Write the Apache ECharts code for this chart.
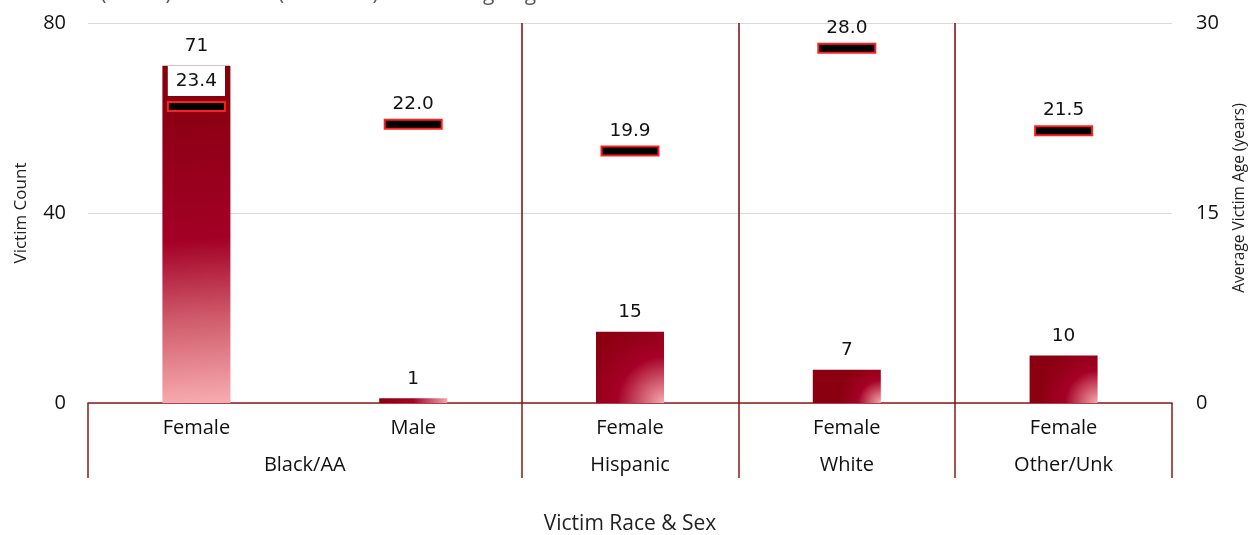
<!DOCTYPE html>
<html>
<head>
<meta charset="utf-8">
<script src="https://cdn.jsdelivr.net/npm/echarts@6/dist/echarts.min.js"></script>
<style>html,body{margin:0;padding:0;background:#fff;}#chart{width:1257px;height:535px;}</style>
</head>
<body>
<div id="chart"></div>
<script>
// ---- data ----
var sexCategories = ['Female', 'Male', 'Female', 'Female', 'Female'];
var raceGroups = ['Black/AA', 'Hispanic', 'White', 'Other/Unk'];
var raceGroupSpans = [2, 1, 1, 1];
var victimCounts = [71, 1, 15, 7, 10];
var averageAges = [23.4, 22.0, 19.9, 28.0, 21.5];
var countTicks = [0, 40, 80];
var ageTicks = [0, 15, 30];
var titleText = 'Number (Count) of Victims (Race/Sex) and Average Age';

// ---- derived positions in category units ----
var boundaries = [0];
var centers = [];
raceGroupSpans.forEach(function (s) {
  var start = boundaries[boundaries.length - 1];
  centers.push(start + s / 2);
  boundaries.push(start + s);
});
var innerBoundaries = boundaries.slice(1, boundaries.length - 1);

var FONT = 'Open Sans';
var NUMFONT = 'DejaVu Sans';
var AXIS_RED = '#8c1a1a';

var tallGrad = { type: 'linear', x: 0, y: 0, x2: 0.35, y2: 1, colorStops: [
  { offset: 0, color: '#82000a' }, { offset: 0.52, color: '#a30026' },
  { offset: 0.75, color: '#cf5a6a' }, { offset: 1, color: '#f7aaae' }] };
var flatGrad = { type: 'linear', x: 0, y: 0, x2: 1, y2: 0, colorStops: [
  { offset: 0, color: '#8b0010' }, { offset: 0.5, color: '#a50026' }, { offset: 1, color: '#f5a6ab' }] };
var radGrad = { type: 'radial', x: 1, y: 1, r: 1.25, colorStops: [
  { offset: 0, color: '#f7aaae' }, { offset: 0.55, color: '#a50026' }, { offset: 1, color: '#8b0010' }] };
var barStyles = [tallGrad, flatGrad, radGrad, radGrad, radGrad];

var chart = echarts.init(document.getElementById('chart'));
chart.setOption({
  animation: false,
  textStyle: { fontFamily: FONT },
  grid: { left: 88, right: 85, top: 23, bottom: 132, outerBoundsMode: 'none', containLabel: false },
  graphic: [{
    type: 'text', right: 1257 - 548, top: -16,
    style: { text: titleText, fontSize: 21, fontFamily: FONT, fill: '#595959', align: 'right' }
  }],
  xAxis: [{
    type: 'category', data: sexCategories,
    axisLine: { lineStyle: { color: AXIS_RED, width: 1.5 } },
    axisTick: { show: false },
    axisLabel: { color: '#111', fontSize: 20, margin: 15, fontFamily: FONT },
    name: 'Victim Race & Sex', nameLocation: 'middle', nameGap: 111,
    nameTextStyle: { color: '#222', fontSize: 21, fontFamily: FONT }
  }, {
    type: 'value', min: 0, max: sexCategories.length, position: 'bottom',
    axisLine: { show: false },
    splitLine: { show: false },
    axisTick: { show: true, length: 75, customValues: boundaries, lineStyle: { color: AXIS_RED, width: 1.5 } },
    axisLabel: { show: true, customValues: centers, margin: 52, color: '#111', fontSize: 20, fontFamily: FONT,
      formatter: function (v) { var i = centers.indexOf(v); return i >= 0 ? raceGroups[i] : ''; } }
  }],
  yAxis: [{
    type: 'value', min: countTicks[0], max: countTicks[countTicks.length - 1], interval: countTicks[1] - countTicks[0],
    axisLine: { show: false }, axisTick: { show: false },
    splitLine: { lineStyle: { color: '#d9d9d9', width: 1 } },
    axisLabel: { color: '#111', fontSize: 20, margin: 22, fontFamily: FONT },
    name: 'Victim Count', nameLocation: 'middle', nameGap: 58, nameRotate: 90,
    nameTextStyle: { color: '#222', fontSize: 17, fontFamily: FONT }
  }, {
    type: 'value', min: ageTicks[0], max: ageTicks[ageTicks.length - 1], interval: ageTicks[1] - ageTicks[0],
    axisLine: { show: false }, axisTick: { show: false }, splitLine: { show: false },
    axisLabel: { color: '#111', fontSize: 20, margin: 24, fontFamily: FONT },
    name: 'Average Victim Age (years)', nameLocation: 'middle', nameGap: 60, nameRotate: 90,
    nameTextStyle: { color: '#222', fontSize: 15.5, fontFamily: FONT, padding: [0, 0, 0, 30] }
  }],
  series: [{
    type: 'bar', xAxisIndex: 0, yAxisIndex: 0, barWidth: 68,
    data: victimCounts.map(function (v, i) { return { value: v, itemStyle: { color: barStyles[i] } }; }),
    label: { show: true, position: 'top', distance: 10, color: '#111', fontSize: 18.5, fontFamily: NUMFONT }
  }, {
    // red outline of the age marker
    type: 'scatter', xAxisIndex: 0, yAxisIndex: 1,
    symbol: 'rect', symbolSize: [59, 11],
    itemStyle: { color: '#ff1f1f', opacity: 1 },
    data: averageAges.map(function (v, i) {
      var d = { value: v };
      if (i === 0) d.label = { backgroundColor: '#fff', padding: [6, 8, 5, 8], distance: 5 };
      return d;
    }),
    label: { show: true, position: 'top', distance: 5, color: '#111', fontSize: 18.5, fontFamily: NUMFONT,
      formatter: function (p) { return p.value.toFixed(1); } },
    z: 5
  }, {
    // black fill of the age marker
    type: 'scatter', xAxisIndex: 0, yAxisIndex: 1,
    symbol: 'rect', symbolSize: [55, 7],
    itemStyle: { color: '#000', opacity: 1 },
    data: averageAges.slice(),
    z: 6
  }, {
    type: 'line', xAxisIndex: 1, yAxisIndex: 0, data: [], symbol: 'none', silent: true,
    markLine: { silent: true, symbol: 'none', label: { show: false },
      lineStyle: { color: '#7a0a0a', width: 1.5, type: 'solid' },
      data: innerBoundaries.map(function (b) { return { xAxis: b }; }) }
  }]
});
</script>
</body>
</html>
